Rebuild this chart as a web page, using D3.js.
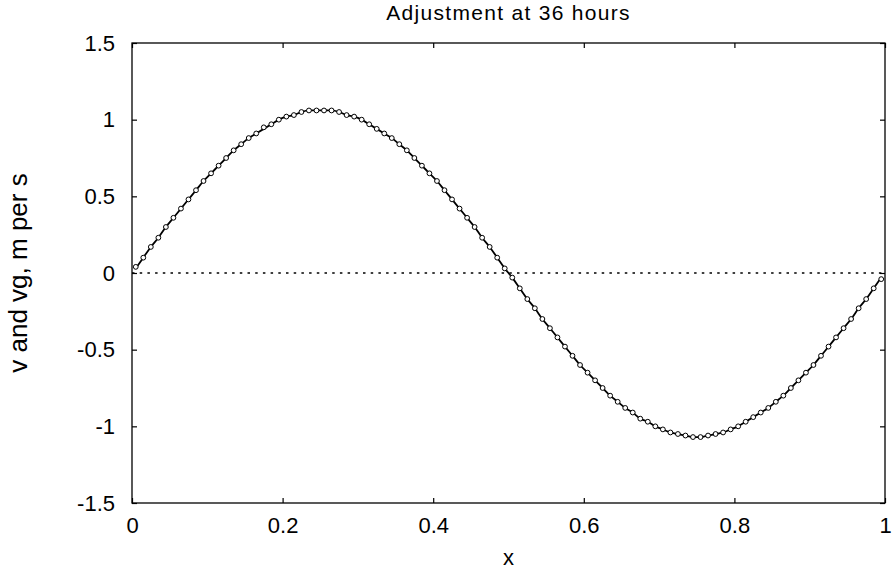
<!DOCTYPE html>
<html>
<head>
<meta charset="utf-8">
<script src="https://cdn.jsdelivr.net/npm/d3@7"></script>
<style>
body { margin: 0; background: #fff; }
svg { display: block; font-family: "Liberation Sans", Arial, sans-serif; }
</style>
</head>
<body>
<svg id="chart" width="892" height="573"></svg>
<script>
const titleText = "Adjustment at 36 hours";
const xLabel = "x";
const yLabel = "v and vg, m per s";
const xTicks = [0, 0.2, 0.4, 0.6, 0.8, 1];
const yTicks = [-1.5, -1, -0.5, 0, 0.5, 1, 1.5];
const xPoints = [0.005,0.015,0.025,0.035,0.045,0.055,0.065,0.075,0.085,0.095,
  0.105,0.115,0.125,0.135,0.145,0.155,0.165,0.175,0.185,0.195,
  0.205,0.215,0.225,0.235,0.245,0.255,0.265,0.275,0.285,0.295,
  0.305,0.315,0.325,0.335,0.345,0.355,0.365,0.375,0.385,0.395,
  0.405,0.415,0.425,0.435,0.445,0.455,0.465,0.475,0.485,0.495,
  0.505,0.515,0.525,0.535,0.545,0.555,0.565,0.575,0.585,0.595,
  0.605,0.615,0.625,0.635,0.645,0.655,0.665,0.675,0.685,0.695,
  0.705,0.715,0.725,0.735,0.745,0.755,0.765,0.775,0.785,0.795,
  0.805,0.815,0.825,0.835,0.845,0.855,0.865,0.875,0.885,0.895,
  0.905,0.915,0.925,0.935,0.945,0.955,0.965,0.975,0.985,0.995];
// v (circles)
const vValues = [0.04,0.10,0.17,0.23,0.30,0.36,0.42,0.48,0.54,0.60,
  0.65,0.70,0.75,0.80,0.84,0.88,0.91,0.95,0.97,1.00,
  1.02,1.03,1.05,1.06,1.06,1.06,1.06,1.05,1.03,1.02,
  1.00,0.97,0.94,0.91,0.88,0.84,0.80,0.75,0.70,0.65,
  0.60,0.54,0.48,0.42,0.36,0.30,0.23,0.17,0.10,0.03,
  -0.03,-0.10,-0.17,-0.23,-0.30,-0.36,-0.42,-0.48,-0.54,-0.60,
  -0.65,-0.70,-0.75,-0.80,-0.84,-0.88,-0.91,-0.95,-0.97,-1.00,
  -1.02,-1.04,-1.05,-1.06,-1.07,-1.07,-1.06,-1.05,-1.04,-1.02,
  -1.00,-0.97,-0.94,-0.91,-0.88,-0.84,-0.80,-0.75,-0.70,-0.65,
  -0.60,-0.54,-0.48,-0.42,-0.36,-0.30,-0.23,-0.17,-0.10,-0.04];
// vg (solid line)
const vgValues = [0.03,0.10,0.17,0.23,0.30,0.36,0.42,0.48,0.54,0.60,
  0.65,0.70,0.75,0.80,0.84,0.88,0.91,0.94,0.97,1.00,
  1.02,1.03,1.05,1.06,1.06,1.06,1.06,1.05,1.03,1.02,
  1.00,0.97,0.94,0.91,0.88,0.84,0.80,0.75,0.70,0.65,
  0.60,0.54,0.48,0.42,0.36,0.30,0.23,0.17,0.10,0.03,
  -0.03,-0.10,-0.17,-0.23,-0.30,-0.36,-0.42,-0.48,-0.54,-0.60,
  -0.65,-0.70,-0.75,-0.80,-0.84,-0.88,-0.91,-0.95,-0.97,-1.00,
  -1.02,-1.04,-1.05,-1.06,-1.07,-1.07,-1.06,-1.05,-1.04,-1.02,
  -1.00,-0.97,-0.94,-0.91,-0.88,-0.84,-0.80,-0.75,-0.70,-0.65,
  -0.60,-0.54,-0.48,-0.42,-0.36,-0.30,-0.23,-0.17,-0.10,-0.03];
const zeroLine = [0, 0];
const zeroLineX = [0, 1];

const svg = d3.select("#chart");
const m = {left: 132, right: 885, top: 43, bottom: 503};
const x = d3.scaleLinear().domain([0, 1]).range([m.left, m.right]);
const y = d3.scaleLinear().domain([-1.5, 1.5]).range([m.bottom, m.top]);
const W = m.right - m.left, H = m.bottom - m.top;

svg.append("rect").attr("x", m.left).attr("y", m.top).attr("width", W).attr("height", H)
  .attr("fill", "none").attr("stroke", "#000").attr("stroke-width", 1.3);

const tickLen = 5;
const fmt = d => String(d);
svg.append("g").attr("transform", `translate(0,${m.bottom})`)
  .call(d3.axisBottom(x).tickValues(xTicks).tickSize(-tickLen).tickPadding(14).tickFormat(fmt))
  .call(g => g.select(".domain").remove());
svg.append("g").attr("transform", `translate(0,${m.top})`)
  .call(d3.axisTop(x).tickValues(xTicks).tickSize(-tickLen).tickFormat(""))
  .call(g => g.select(".domain").remove());
svg.append("g").attr("transform", `translate(${m.left},0)`)
  .call(d3.axisLeft(y).tickValues(yTicks).tickSize(-tickLen).tickPadding(17).tickFormat(fmt))
  .call(g => g.select(".domain").remove());
svg.append("g").attr("transform", `translate(${m.right},0)`)
  .call(d3.axisRight(y).tickValues(yTicks).tickSize(-tickLen).tickFormat(""))
  .call(g => g.select(".domain").remove());

svg.selectAll(".tick line").attr("stroke", "#000").attr("stroke-width", 1.2);
svg.selectAll(".tick text").attr("font-size", 22).attr("fill", "#000")
  .attr("font-family", "'Liberation Sans', Arial, sans-serif");

svg.append("path")
  .datum(zeroLineX.map((d, i) => [d, zeroLine[i]]))
  .attr("d", d3.line().x(d => x(d[0])).y(d => y(d[1])))
  .attr("stroke", "#000").attr("stroke-width", 1.5).attr("stroke-dasharray", "2.5,5.2").attr("fill", "none");

svg.append("path")
  .datum(xPoints.map((d, i) => [d, vgValues[i]]))
  .attr("d", d3.line().x(d => x(d[0])).y(d => y(d[1])).curve(d3.curveMonotoneX))
  .attr("stroke", "#000").attr("stroke-width", 1.8).attr("fill", "none");

svg.append("g").selectAll("circle")
  .data(xPoints.map((d, i) => [d, vValues[i]]))
  .join("circle")
  .attr("cx", d => x(d[0])).attr("cy", d => y(d[1])).attr("r", 2.4)
  .attr("fill", "#fff").attr("stroke", "#000").attr("stroke-width", 1);

svg.append("text").attr("x", (m.left + m.right) / 2).attr("y", 20).attr("text-anchor", "middle")
  .attr("font-size", 21).attr("letter-spacing", 1.3).attr("fill", "#000").text(titleText);
svg.append("text").attr("x", (m.left + m.right) / 2).attr("y", 565).attr("text-anchor", "middle")
  .attr("font-size", 22).attr("fill", "#000").text(xLabel);
svg.append("text").attr("transform", `translate(27,${(m.top + m.bottom) / 2}) rotate(-90)`)
  .attr("text-anchor", "middle").attr("font-size", 26).attr("fill", "#000").text(yLabel);
</script>
</body>
</html>
